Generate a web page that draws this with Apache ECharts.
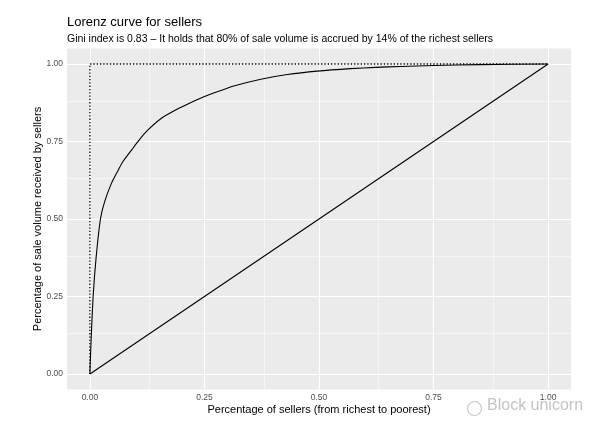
<!DOCTYPE html>
<html>
<head>
<meta charset="utf-8">
<script src="https://cdn.jsdelivr.net/npm/echarts@6/dist/echarts.min.js"></script>
<style>html,body{margin:0;padding:0;background:#fff}#c{width:600px;height:432px}</style>
</head>
<body>
<div id="c"></div>
<script>
// Lorenz curve points: share of sellers (richest first) vs share of sale volume
var lorenzX = [0, 0.0006, 0.003, 0.007, 0.0135, 0.023, 0.032, 0.047, 0.0627, 0.0714, 0.0917, 0.106, 0.125, 0.157, 0.194, 0.215, 0.25, 0.281, 0.314, 0.373, 0.431, 0.496, 0.569, 0.624, 0.678, 0.75, 0.85, 1];
var lorenzY = [0, 0.03, 0.125, 0.25, 0.375, 0.5, 0.555, 0.615, 0.66, 0.684, 0.724, 0.752, 0.785, 0.826, 0.857, 0.872, 0.895, 0.912, 0.929, 0.951, 0.966, 0.977, 0.985, 0.989, 0.992, 0.995, 0.998, 1];
var equalityX = [0, 1];
var equalityY = [0, 1];
var perfectX = [0, 0, 1];
var perfectY = [0, 1, 1];
var majorTicks = [0, 0.25, 0.5, 0.75, 1];
var minorTicks = [0.125, 0.375, 0.625, 0.875];
var tickLabels = ['0.00', '0.25', '0.50', '0.75', '1.00'];

function zip(a, b) { return a.map(function (v, i) { return [v, b[i]]; }); }
var FONT = '"Liberation Sans", Arial, sans-serif';

var gridLines = [];
majorTicks.forEach(function (v) {
  gridLines.push({ xAxis: v, lineStyle: { width: 1.1 } });
  gridLines.push({ yAxis: v, lineStyle: { width: 1.1 } });
});
minorTicks.forEach(function (v) {
  gridLines.push({ xAxis: v, lineStyle: { width: 0.5 } });
  gridLines.push({ yAxis: v, lineStyle: { width: 0.5 } });
});

function labelFmt(v) {
  var i = majorTicks.indexOf(v);
  return i >= 0 ? tickLabels[i] : '';
}

var chart = echarts.init(document.getElementById('c'), null, { renderer: 'canvas' });
chart.setOption({
  animation: false,
  backgroundColor: '#ffffff',
  textStyle: { fontFamily: FONT },
  title: {
    left: 62, top: 11,
    text: 'Lorenz curve for sellers',
    subtext: 'Gini index is 0.83 – It holds that 80% of sale volume is accrued by 14% of the richest sellers',
    itemGap: 5,
    textStyle: { fontFamily: FONT, fontSize: 13, fontWeight: 'normal', color: '#000' },
    subtextStyle: { fontFamily: FONT, fontSize: 10.5, color: '#000' }
  },
  grid: {
    left: 67, right: 29, top: 48.5, bottom: 42.5,
    show: true, backgroundColor: '#ebebeb', borderWidth: 0
  },
  xAxis: {
    type: 'value', min: -0.05, max: 1.05,
    name: 'Percentage of sellers (from richest to poorest)',
    nameLocation: 'middle', nameGap: 15, nameMoveOverlap: false,
    nameTextStyle: { fontFamily: FONT, fontSize: 11, color: '#000', verticalAlign: 'top' },
    axisLine: { show: false },
    axisTick: { show: true, length: 3, customValues: majorTicks, lineStyle: { color: '#333', width: 1 } },
    axisLabel: { customValues: majorTicks, formatter: labelFmt, margin: 4, fontSize: 8.5, color: '#4d4d4d', fontFamily: FONT },
    splitLine: { show: false }
  },
  yAxis: {
    type: 'value', min: -0.05, max: 1.05,
    name: 'Percentage of sale volume received by sellers',
    nameLocation: 'middle', nameGap: 24, nameMoveOverlap: false,
    nameTextStyle: { fontFamily: FONT, fontSize: 11, color: '#000', verticalAlign: 'bottom' },
    axisLine: { show: false },
    axisTick: { show: true, length: 3, customValues: majorTicks, lineStyle: { color: '#333', width: 1 } },
    axisLabel: { customValues: majorTicks, formatter: labelFmt, margin: 4, fontSize: 8.5, color: '#4d4d4d', fontFamily: FONT },
    splitLine: { show: false }
  },
  series: [
    {
      type: 'line', name: 'grid', z: 1, silent: true,
      data: [[0, 0]], symbol: 'none', lineStyle: { opacity: 0 },
      markLine: {
        z: 1, silent: true, symbol: 'none', label: { show: false },
        lineStyle: { color: '#ffffff', type: 'solid' },
        animation: false,
        data: gridLines
      }
    },
    {
      type: 'line', name: 'perfect', z: 10, data: zip(perfectX, perfectY),
      symbol: 'none', lineStyle: { color: '#000', width: 1.3, type: [1.3, 2] }
    },
    {
      type: 'line', name: 'equality', z: 11, data: zip(equalityX, equalityY),
      symbol: 'none', lineStyle: { color: '#000', width: 1.1 }
    },
    {
      type: 'line', name: 'lorenz', z: 12, data: zip(lorenzX, lorenzY),
      symbol: 'none', smooth: 0.2,
      lineStyle: { color: '#000', width: 1.1, join: 'round' }
    }
  ],
  graphic: [
    {
      type: 'circle', left: 465, top: 399, shape: { r: 7 },
      style: { fill: 'none', stroke: '#c8c8c8', lineWidth: 1.2 }, z: 10
    },
    {
      type: 'text', left: 487, top: 398,
      style: { text: 'Block unicorn', fontSize: 16, fill: '#c4c4c4', fontFamily: FONT }, z: 10
    }
  ]
});
</script>
</body>
</html>
